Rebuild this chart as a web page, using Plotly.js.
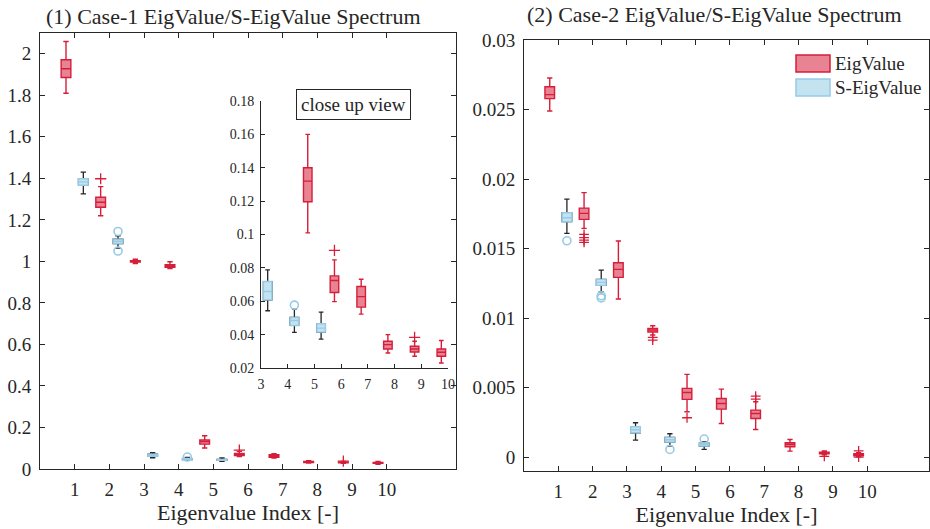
<!DOCTYPE html>
<html>
<head>
<meta charset="utf-8">
<script src="https://cdn.plot.ly/plotly-3.0.1.min.js"></script>
<style>html,body{margin:0;padding:0;background:#fff;}#chart{width:930px;height:529px;}</style>
</head>
<body>
<div id="chart"></div>
<script>
// ---------- DATA ----------
const eigIndex = [1, 2, 3, 4, 5, 6, 7, 8, 9, 10];
const sEigIndex = [1, 2, 3, 4, 5];
const xTickLabels = ['1','2','3','4','5','6','7','8','9','10'];

// Case 1 - EigValue box statistics
const c1EigLow  = [1.81, 1.22, 0.990, 0.965, 0.101, 0.0598, 0.0523, 0.029, 0.027, 0.023];
const c1EigQ1   = [1.886, 1.261, 0.997, 0.972, 0.1196, 0.0652, 0.0565, 0.0314, 0.0296, 0.027];
const c1EigMed  = [1.928, 1.285, 1.000, 0.978, 0.132, 0.0724, 0.0628, 0.034, 0.0314, 0.0294];
const c1EigQ3   = [1.971, 1.309, 1.003, 0.984, 0.140, 0.0752, 0.0688, 0.036, 0.033, 0.0314];
const c1EigHigh = [2.059, 1.36, 1.010, 0.998, 0.160, 0.0848, 0.0732, 0.040, 0.036, 0.0365];
const c1EigOutIdx = [2, 6, 9];
const c1EigOutVal = [1.398, 0.0905, 0.0383];

// Case 1 - S-EigValue box statistics
const c1SEigLow  = [1.325, 1.064, 0.0543, 0.0413, 0.0373];
const c1SEigQ1   = [1.367, 1.086, 0.0608, 0.0455, 0.0415];
const c1SEigMed  = [1.383, 1.097, 0.0658, 0.0485, 0.0439];
const c1SEigQ3   = [1.398, 1.107, 0.0718, 0.0503, 0.0465];
const c1SEigHigh = [1.43, 1.123, 0.0788, 0.0553, 0.0535];
const c1SEigOutIdx = [2, 2, 4];
const c1SEigOutVal = [1.144, 1.05, 0.0577];

// Case 2 - EigValue box statistics
const c2EigLow  = [0.02489, 0.01645, 0.01137, 0.00878, 0.00326, 0.00242, 0.00199, 0.00043, 0.00017, 0.00002];
const c2EigQ1   = [0.02578, 0.0171, 0.01293, 0.0090, 0.00415, 0.00345, 0.00278, 0.00074, 0.00024, 0.0001];
const c2EigMed  = [0.02607, 0.01753, 0.0135, 0.00914, 0.00465, 0.00386, 0.00314, 0.00091, 0.00031, 0.00017];
const c2EigQ3   = [0.02664, 0.01791, 0.01398, 0.00926, 0.00494, 0.00422, 0.00338, 0.00103, 0.00036, 0.00024];
const c2EigHigh = [0.02727, 0.01902, 0.01554, 0.00945, 0.00595, 0.00489, 0.00398, 0.00127, 0.00045, 0.00031];
const c2EigOutIdx = [2, 2, 2, 2, 4, 4, 5, 7, 7, 9, 10, 10];
const c2EigOutVal = [0.01602, 0.01578, 0.01561, 0.01545, 0.00861, 0.00842, 0.00283, 0.00439, 0.00417, 0.00005, 0.00045, 0.0];

// Case 2 - S-EigValue box statistics
const c2SEigLow  = [0.01609, 0.01189, 0.00122, 0.00079, 0.00055];
const c2SEigQ1   = [0.01693, 0.01235, 0.00175, 0.00108, 0.00079];
const c2SEigMed  = [0.01722, 0.01257, 0.00197, 0.00125, 0.00091];
const c2SEigQ3   = [0.01758, 0.01278, 0.00218, 0.00142, 0.00101];
const c2SEigHigh = [0.01856, 0.01345, 0.00247, 0.00168, 0.0011];
const c2SEigOutIdx = [1, 2, 2, 4, 5];
const c2SEigOutVal = [0.01556, 0.0116, 0.01145, 0.00055, 0.0013];

// inset (close-up) shows indices 3..10 of case 1
const insetFrom = 3;

// ---------- STYLE ----------
const W = 930, H = 529;
const RED = 'rgb(214,30,58)';
const RED_FILL = 'rgba(214,30,58,0.55)';
const BLUE = 'rgb(150,202,230)';
const BLUE_FILL = 'rgb(196,227,241)';
const DARK = '#262626';
const FONT = 'Liberation Serif, Times New Roman, serif';
const px = v => v / W;
const py = v => 1 - v / H;

const traces = [];
function addBoxes(xa, ya, idx, lo, q1, med, q3, hi, offset, kind, bw, filter) {
  const keep = idx.map((v, i) => filter(v) ? i : -1).filter(i => i >= 0);
  const pick = a => keep.map(i => a[i]);
  const xs = pick(idx).map(v => v + offset);
  if (kind === 'red') {
    traces.push({type: 'box', xaxis: xa, yaxis: ya, x: xs,
      q1: pick(q1), median: pick(med), q3: pick(q3), lowerfence: pick(lo), upperfence: pick(hi),
      width: bw, whiskerwidth: 0.55, boxpoints: false,
      line: {color: RED, width: 1.4}, fillcolor: RED_FILL, hoverinfo: 'skip', showlegend: false});
  } else {
    // dark whiskers
    traces.push({type: 'box', xaxis: xa, yaxis: ya, x: xs,
      q1: pick(q1), median: pick(med), q3: pick(q3), lowerfence: pick(lo), upperfence: pick(hi),
      width: bw, whiskerwidth: 0.55, boxpoints: false,
      line: {color: DARK, width: 1.3}, fillcolor: 'rgba(0,0,0,0)', hoverinfo: 'skip', showlegend: false});
    // light blue box on top (no whiskers)
    traces.push({type: 'box', xaxis: xa, yaxis: ya, x: xs,
      q1: pick(q1), median: pick(med), q3: pick(q3), lowerfence: pick(q1), upperfence: pick(q3),
      width: bw, whiskerwidth: 0, boxpoints: false,
      line: {color: BLUE, width: 1.4}, fillcolor: BLUE_FILL, hoverinfo: 'skip', showlegend: false});
  }
}
function addOutliers(xa, ya, idx, vals, offset, kind, filter, size) {
  const keep = idx.map((v, i) => filter(v) ? i : -1).filter(i => i >= 0);
  traces.push({type: 'scatter', mode: 'markers', xaxis: xa, yaxis: ya,
    x: keep.map(i => idx[i] + offset), y: keep.map(i => vals[i]),
    marker: kind === 'red'
      ? {symbol: 'cross-thin-open', size: size, color: RED, line: {color: RED, width: 1.3}}
      : {symbol: 'circle-open', size: size, color: BLUE, line: {color: BLUE, width: 1.6}},
    hoverinfo: 'skip', showlegend: false});
}
const all = () => true;
const inInset = v => v >= insetFrom;

// panel 1
addBoxes('x', 'y', eigIndex, c1EigLow, c1EigQ1, c1EigMed, c1EigQ3, c1EigHigh, -0.25, 'red', 0.28, all);
addBoxes('x', 'y', sEigIndex, c1SEigLow, c1SEigQ1, c1SEigMed, c1SEigQ3, c1SEigHigh, 0.25, 'blue', 0.28, all);
addOutliers('x', 'y', c1EigOutIdx, c1EigOutVal, -0.25, 'red', all, 8);
addOutliers('x', 'y', c1SEigOutIdx, c1SEigOutVal, 0.25, 'blue', all, 8);
// inset
addBoxes('x3', 'y3', eigIndex, c1EigLow, c1EigQ1, c1EigMed, c1EigQ3, c1EigHigh, -0.25, 'red', 0.32, inInset);
addBoxes('x3', 'y3', sEigIndex, c1SEigLow, c1SEigQ1, c1SEigMed, c1SEigQ3, c1SEigHigh, 0.25, 'blue', 0.32, inInset);
addOutliers('x3', 'y3', c1EigOutIdx, c1EigOutVal, -0.25, 'red', inInset, 8);
addOutliers('x3', 'y3', c1SEigOutIdx, c1SEigOutVal, 0.25, 'blue', inInset, 8);
// panel 2
addBoxes('x2', 'y2', eigIndex, c2EigLow, c2EigQ1, c2EigMed, c2EigQ3, c2EigHigh, -0.25, 'red', 0.28, all);
addBoxes('x2', 'y2', sEigIndex, c2SEigLow, c2SEigQ1, c2SEigMed, c2SEigQ3, c2SEigHigh, 0.25, 'blue', 0.28, all);
addOutliers('x2', 'y2', c2EigOutIdx, c2EigOutVal, -0.25, 'red', all, 7);
addOutliers('x2', 'y2', c2SEigOutIdx, c2SEigOutVal, 0.25, 'blue', all, 8);

const axisBase = {
  showline: true, linecolor: DARK, linewidth: 1, mirror: 'ticks',
  ticks: 'inside', ticklen: 5, tickcolor: DARK, tickwidth: 1,
  showgrid: false, zeroline: false,
  tickfont: {family: FONT, size: 19, color: DARK}
};

const layout = {
  width: W, height: H,
  margin: {l: 0, r: 0, t: 0, b: 0},
  paper_bgcolor: '#fff', plot_bgcolor: 'rgba(0,0,0,0)',
  boxmode: 'overlay',
  showlegend: false,
  font: {family: FONT, color: DARK},
  xaxis: Object.assign({}, axisBase, {
    domain: [px(40), px(456)], range: [0, 12], anchor: 'y',
    tickvals: eigIndex, ticktext: xTickLabels, ticklabelstandoff: 3,
    title: {text: 'Eigenvalue Index [-]', font: {family: FONT, size: 22, color: DARK}, standoff: 3}
  }),
  yaxis: Object.assign({}, axisBase, {
    domain: [py(469), py(33)], range: [0, 2.1], anchor: 'x',
    tickvals: [0, 0.2, 0.4, 0.6, 0.8, 1, 1.2, 1.4, 1.6, 1.8, 2],
    ticktext: ['0', '0.2', '0.4', '0.6', '0.8', '1', '1.2', '1.4', '1.6', '1.8', '2'],
    ticklabelstandoff: 4
  }),
  xaxis2: Object.assign({}, axisBase, {
    domain: [px(524), px(929)], range: [0, 11.8], anchor: 'y2',
    tickvals: eigIndex, ticktext: xTickLabels, ticklabelstandoff: 3,
    title: {text: 'Eigenvalue Index [-]', font: {family: FONT, size: 22, color: DARK}, standoff: 3}
  }),
  yaxis2: Object.assign({}, axisBase, {
    domain: [py(471), py(40)], range: [-0.001, 0.03], anchor: 'x2',
    tickvals: [0, 0.005, 0.01, 0.015, 0.02, 0.025, 0.03],
    ticktext: ['0', '0.005', '0.01', '0.015', '0.02', '0.025', '0.03'],
    ticklabelstandoff: 4
  }),
  xaxis3: Object.assign({}, axisBase, {
    domain: [px(261), px(448)], range: [3, 10], anchor: 'y3', mirror: false, ticklen: 4,
    tickvals: [3, 4, 5, 6, 7, 8, 9, 10], ticklabelstandoff: 3,
    tickfont: {family: FONT, size: 14, color: DARK}
  }),
  yaxis3: Object.assign({}, axisBase, {
    domain: [py(368), py(101)], range: [0.02, 0.18], anchor: 'x3', mirror: false, ticklen: 4,
    tickvals: [0.02, 0.04, 0.06, 0.08, 0.1, 0.12, 0.14, 0.16, 0.18],
    ticktext: ['0.02', '0.04', '0.06', '0.08', '0.1', '0.12', '0.14', '0.16', '0.18'],
    ticklabelstandoff: 3,
    tickfont: {family: FONT, size: 14, color: DARK}
  }),
  annotations: [
    {xref: 'paper', yref: 'paper', x: px(233), y: py(17), text: '(1) Case-1 EigValue/S-EigValue Spectrum',
     showarrow: false, xanchor: 'center', yanchor: 'middle', font: {family: FONT, size: 22, color: DARK}},
    {xref: 'paper', yref: 'paper', x: px(714), y: py(14), text: '(2) Case-2 EigValue/S-EigValue Spectrum',
     showarrow: false, xanchor: 'center', yanchor: 'middle', font: {family: FONT, size: 22, color: DARK}},
    {xref: 'paper', yref: 'paper', x: px(353), y: py(104), text: 'close up view',
     showarrow: false, xanchor: 'center', yanchor: 'middle', bordercolor: DARK, borderwidth: 1, borderpad: 4,
     bgcolor: '#fff', font: {family: FONT, size: 19, color: DARK}},
    {xref: 'paper', yref: 'paper', x: px(833), y: py(63), text: 'EigValue',
     showarrow: false, xanchor: 'left', yanchor: 'middle', font: {family: FONT, size: 19, color: DARK}},
    {xref: 'paper', yref: 'paper', x: px(833), y: py(87), text: 'S-EigValue',
     showarrow: false, xanchor: 'left', yanchor: 'middle', font: {family: FONT, size: 19, color: DARK}}
  ],
  shapes: [
    {type: 'rect', xref: 'paper', yref: 'paper', x0: px(796), x1: px(830), y0: py(72), y1: py(55),
     line: {color: RED, width: 1.5}, fillcolor: RED_FILL},
    {type: 'rect', xref: 'paper', yref: 'paper', x0: px(796), x1: px(830), y0: py(96), y1: py(79),
     line: {color: BLUE, width: 1.5}, fillcolor: BLUE_FILL}
  ]
};

Plotly.newPlot('chart', traces, layout, {displayModeBar: false, staticPlot: true});
</script>
</body>
</html>
